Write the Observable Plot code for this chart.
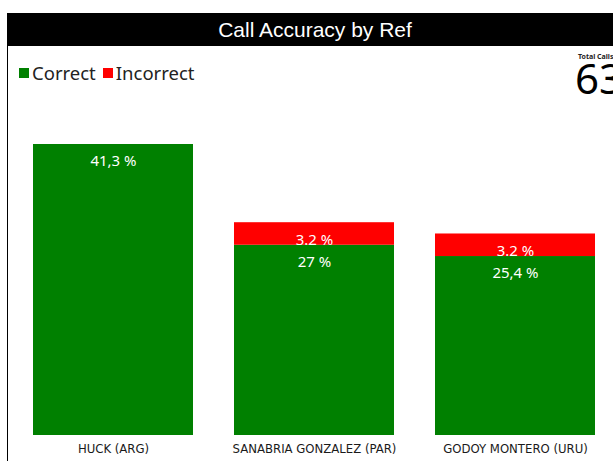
<!DOCTYPE html>
<html>
<head>
<meta charset="utf-8">
<script src="https://cdn.jsdelivr.net/npm/d3@7"></script>
<script src="https://cdn.jsdelivr.net/npm/@observablehq/plot@0.6"></script>
<style>
  html, body { margin: 0; padding: 0; background: #fff; overflow: hidden; width: 613px; height: 461px; }
  #wrap { position: relative; width: 613px; height: 461px; }
  #border { position: absolute; left: 7px; top: 13px; width: 1px; height: 448px; background: #000; }
  #title { position: absolute; left: 7px; top: 13px; width: 606px; height: 33px; background: #000; color: #fff;
    font-family: "Liberation Sans", Arial, sans-serif; font-size: 21px; line-height: 34px; text-align: center; text-indent: 10px; }
  #legend { position: absolute; left: 19px; top: 60px; font-family: "Noto Sans", sans-serif; font-size: 18.5px; color: #222; display: flex; align-items: center; white-space: nowrap; }
  #legend .sw { display: inline-block; width: 10px; height: 10px; margin-right: 3px; }
  #legend .item { display: flex; align-items: center; margin-right: 7px; }
  #totlbl { position: absolute; left: 578px; top: 53px; font-family: "Noto Sans", sans-serif; font-size: 7px; font-weight: bold; line-height: 8px; white-space: nowrap; color: #222; }
  #totnum { position: absolute; left: 575px; top: 62px; font-family: "Noto Sans", sans-serif; font-size: 42px; line-height: 32px; white-space: nowrap; color: #000; }
  #chart { position: absolute; left: 0; top: 46px; }
</style>
</head>
<body>
<div id="wrap">
  <div id="title">Call Accuracy by Ref</div>
  <div id="border"></div>
  <div id="legend"></div>
  <div id="totlbl">Total Calls</div>
  <div id="totnum"></div>
  <div id="chart"></div>
</div>
<script>
const refs = ["HUCK (ARG)", "SANABRIA GONZALEZ (PAR)", "GODOY MONTERO (URU)"];
const statuses = ["Correct", "Incorrect"];
const colors = ["#008000", "#ff0000"];
const correct = [41.3, 27, 25.4];
const incorrect = [0, 3.2, 3.2];
const correctLabels = ["41,3 %", "27 %", "25,4 %"];
const incorrectLabels = [null, "3.2 %", "3.2 %"];
const totalCalls = 63;

const rows = [];
refs.forEach((r, i) => {
  rows.push({ref: r, status: "Correct", value: correct[i], label: correctLabels[i]});
  rows.push({ref: r, status: "Incorrect", value: incorrect[i], label: incorrectLabels[i]});
});

const legend = document.getElementById("legend");
statuses.forEach((s, i) => {
  const it = document.createElement("span");
  it.className = "item";
  it.innerHTML = `<span class="sw" style="background:${colors[i]}"></span><span>${s}</span>`;
  legend.appendChild(it);
});
document.getElementById("totnum").textContent = totalCalls;

const chart = Plot.plot({
  width: 613,
  height: 415,
  marginTop: 0, marginLeft: 0, marginRight: 0, marginBottom: 26,
  style: {background: "transparent", overflow: "visible"},
  x: {domain: refs, range: [12.5, 615.5], paddingInner: 0.204, paddingOuter: 0.102, label: null},
  y: {domain: [0, 41.3], range: [389, 98], axis: null},
  color: {domain: statuses, range: colors},
  marks: [
    Plot.barY(rows, {x: "ref", y: "value", fill: "status", z: "status", order: statuses}),
    Plot.text(rows, Plot.stackY2({x: "ref", y: "value", z: "status", order: statuses, text: "label",
      dy: 17, fill: "#fff", fontSize: 15, fontFamily: "Noto Sans, sans-serif"})),
    Plot.axisX({tickSize: 0, tickPadding: 8, fontSize: 13, fontFamily: "DejaVu Sans Condensed, sans-serif", fill: "#1a1a1a", label: null})
  ]
});
document.getElementById("chart").appendChild(chart);
</script>
</body>
</html>
